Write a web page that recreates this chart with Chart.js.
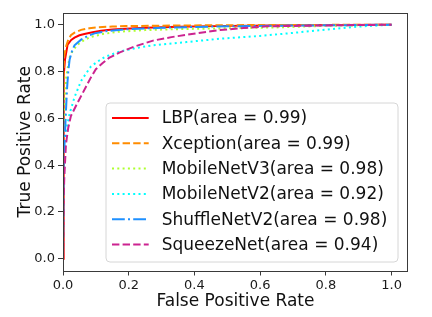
<!DOCTYPE html>
<html><head><meta charset="utf-8">
<script src="https://cdn.jsdelivr.net/npm/chart.js@4/dist/chart.umd.min.js"></script>
<style>html,body{margin:0;padding:0;background:#fff;}#wrap{width:432px;height:317px;}</style>
</head><body><div id="wrap"><canvas id="c" width="432" height="317"></canvas></div>
<script>
// ---- data ----
const seriesNames = ["LBP", "Xception", "MobileNetV3", "MobileNetV2", "ShuffleNetV2", "SqueezeNet"];
const seriesAUC = [0.99, 0.99, 0.98, 0.92, 0.98, 0.94];
const xTicks = [0.0, 0.2, 0.4, 0.6, 0.8, 1.0];
const yTicks = [0.0, 0.2, 0.4, 0.6, 0.8, 1.0];

const lbpFPR = [0, 0.001, 0.003, 0.006, 0.014, 0.025, 0.035, 0.05, 0.065, 0.09, 0.116, 0.15, 0.19, 0.25, 0.35, 0.5, 0.7, 1.0];
const lbpTPR = [0, 0.5, 0.78, 0.85, 0.915, 0.935, 0.945, 0.955, 0.96, 0.968, 0.974, 0.979, 0.983, 0.987, 0.991, 0.995, 0.998, 1.0];

const xceptionFPR = [0, 0.001, 0.002, 0.004, 0.01, 0.016, 0.024, 0.035, 0.055, 0.08, 0.106, 0.15, 0.19, 0.3, 0.5, 1.0];
const xceptionTPR = [0, 0.6, 0.82, 0.87, 0.91, 0.935, 0.955, 0.966, 0.978, 0.985, 0.989, 0.992, 0.994, 0.996, 0.998, 1.0];

const mnv3FPR = [0, 0.002, 0.005, 0.01, 0.02, 0.03, 0.045, 0.065, 0.085, 0.12, 0.17, 0.25, 0.35, 0.5, 0.64, 0.8, 1.0];
const mnv3TPR = [0, 0.4, 0.65, 0.78, 0.86, 0.89, 0.915, 0.935, 0.948, 0.96, 0.97, 0.977, 0.981, 0.985, 0.988, 0.995, 1.0];

const mnv2FPR = [0, 0.002, 0.005, 0.01, 0.02, 0.035, 0.055, 0.085, 0.106, 0.127, 0.173, 0.229, 0.273, 0.376, 0.478, 0.6, 0.7, 0.8, 0.9, 1.0];
const mnv2TPR = [0, 0.3, 0.45, 0.55, 0.62, 0.69, 0.76, 0.822, 0.843, 0.862, 0.886, 0.902, 0.912, 0.926, 0.94, 0.952, 0.965, 0.979, 0.992, 1.0];

const shuffleFPR = [0, 0.002, 0.008, 0.012, 0.016, 0.02, 0.028, 0.035, 0.055, 0.075, 0.096, 0.13, 0.19, 0.3, 0.45, 0.6, 1.0];
const shuffleTPR = [0, 0.4, 0.6, 0.72, 0.8, 0.85, 0.89, 0.912, 0.936, 0.952, 0.963, 0.972, 0.98, 0.987, 0.992, 0.995, 1.0];

const squeezeFPR = [0, 0.001, 0.002, 0.004, 0.009, 0.016, 0.024, 0.04, 0.055, 0.07, 0.085, 0.1, 0.12, 0.14, 0.173, 0.22, 0.274, 0.33, 0.376, 0.43, 0.478, 0.55, 0.62, 0.8, 1.0];
const squeezeTPR = [0, 0.1, 0.25, 0.35, 0.49, 0.56, 0.61, 0.655, 0.695, 0.735, 0.775, 0.81, 0.835, 0.858, 0.882, 0.908, 0.932, 0.947, 0.957, 0.968, 0.977, 0.986, 0.993, 0.997, 1.0];

// ---- styles ----
const FONT = "'DejaVu Sans', sans-serif";
const colors = ["#ff0000", "#ff8c00", "#adff2f", "#00ffff", "#1e90ff", "#cc2390"];
const dashes = [[], [7.4, 3.2], [2, 3.3], [2, 3.3], [12.8, 3.2, 2, 3.2], [7.4, 3.2]];
const fprs = [lbpFPR, xceptionFPR, mnv3FPR, mnv2FPR, shuffleFPR, squeezeFPR];
const tprs = [lbpTPR, xceptionTPR, mnv3TPR, mnv2TPR, shuffleTPR, squeezeTPR];

const datasets = seriesNames.map((name, i) => ({
  label: name + "(area = " + seriesAUC[i].toFixed(2) + ")",
  data: fprs[i].map((x, k) => ({x: x, y: tprs[i][k]})),
  borderColor: colors[i],
  backgroundColor: colors[i],
  borderDash: dashes[i],
  borderWidth: 2,
  pointRadius: 0,
  tension: 0,
  fill: false,
  order: seriesNames.length - i
}));

const framePlugin = {
  id: "frameLegend",
  afterDatasetsDraw(chart) {
    const ctx = chart.ctx, a = chart.chartArea;
    ctx.save();
    ctx.strokeStyle = "#3a3a3a";
    ctx.lineWidth = 1;
    ctx.setLineDash([]);
    ctx.strokeRect(Math.round(a.left) + 0.5, Math.round(a.top) + 0.5, Math.round(a.right - a.left) - 1, Math.round(a.bottom - a.top));
    // legend box
    const bx = a.left + 43, by = a.top + 90, bw = 292, bh = 159, r = 4;
    ctx.beginPath();
    ctx.moveTo(bx + r, by);
    ctx.arcTo(bx + bw, by, bx + bw, by + bh, r);
    ctx.arcTo(bx + bw, by + bh, bx, by + bh, r);
    ctx.arcTo(bx, by + bh, bx, by, r);
    ctx.arcTo(bx, by, bx + bw, by, r);
    ctx.closePath();
    ctx.fillStyle = "rgba(255,255,255,0.85)";
    ctx.fill();
    ctx.strokeStyle = "#d6d6d6";
    ctx.stroke();
    ctx.font = "17px " + FONT;
    ctx.textBaseline = "middle";
    ctx.textAlign = "left";
    chart.data.datasets.forEach((ds, i) => {
      const yy = by + 15 + i * 25.3;
      ctx.beginPath();
      ctx.setLineDash(ds.borderDash || []);
      ctx.strokeStyle = ds.borderColor;
      ctx.lineWidth = ds.borderWidth;
      ctx.moveTo(bx + 6, yy);
      ctx.lineTo(bx + 42.7, yy);
      ctx.stroke();
      ctx.setLineDash([]);
      ctx.fillStyle = "#111";
      ctx.fillText(ds.label, bx + 55.7, yy + 1);
    });
    ctx.restore();
  }
};

new Chart(document.getElementById("c"), {
  type: "line",
  data: {datasets: datasets},
  options: {
    responsive: false,
    animation: false,
    devicePixelRatio: 1,
    layout: {padding: {top: 13, right: 24, left: 0, bottom: 0}},
    plugins: {legend: {display: false}, tooltip: {enabled: false}},
    scales: {
      x: {
        type: "linear", min: 0, max: 1.05,
        afterBuildTicks: s => { s.ticks = xTicks.map(v => ({value: v})); },
        afterFit: s => { s.height = 46.5; },
        ticks: {font: {family: FONT, size: 13}, color: "#1a1a1a", padding: 2, maxRotation: 0, callback: v => Number(v).toFixed(1)},
        grid: {drawOnChartArea: false, drawTicks: true, tickLength: 5, color: "#3a3a3a"},
        border: {display: false},
        title: {display: true, text: "False Positive Rate", font: {family: FONT, size: 17}, color: "#111", padding: {top: 0, bottom: 5}}
      },
      y: {
        type: "linear", min: -0.05, max: 1.05,
        afterBuildTicks: s => { s.ticks = yTicks.map(v => ({value: v})); },
        afterFit: s => { s.width = 63; },
        ticks: {font: {family: FONT, size: 13}, color: "#1a1a1a", padding: 3, callback: v => Number(v).toFixed(1)},
        grid: {drawOnChartArea: false, drawTicks: true, tickLength: 5, color: "#3a3a3a"},
        border: {display: false},
        title: {display: true, text: "True Positive Rate", font: {family: FONT, size: 17}, color: "#111", padding: {top: 15, bottom: 0}}
      }
    }
  },
  plugins: [framePlugin]
});
</script>
</body></html>
